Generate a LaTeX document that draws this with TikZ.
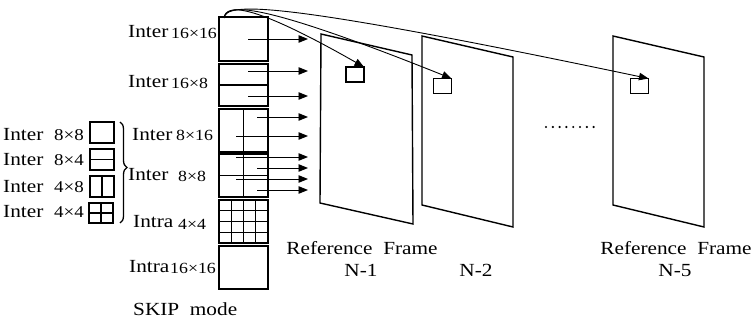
\documentclass[tikz,border=0pt]{standalone}
\usepackage{fontspec}
\setmainfont[FakeStretch=1.15]{Liberation Serif}
\usepackage{tikz}
\usetikzlibrary{arrows.meta,calc,decorations.pathreplacing}
\newcommand{\mb}{\fontsize{18.5}{20}\selectfont}
\newcommand{\sm}{\fontsize{15.5}{17}\selectfont}

\begin{document}
\begin{tikzpicture}[x=1pt,y=-1pt,>={Triangle[length=9.5pt,width=7.5pt]},
blk/.style={draw,line width=1.3pt,minimum width=49pt,inner sep=0pt,outer sep=0pt},
sblk/.style={draw,line width=1.3pt,minimum width=24pt,minimum height=21pt,inner sep=0pt,outer sep=0pt},
rblk/.style={draw,line width=1.3pt,minimum width=18pt,minimum height=15pt,inner sep=0pt,outer sep=0pt},
lbl/.style={inner sep=0pt,anchor=base west,font=\mb},
num/.style={inner sep=0pt,anchor=base west,font=\sm},
frm/.style={line width=1.4pt,line join=miter},
mv/.style={->,line width=0.9pt}]
\useasboundingbox (0,0) rectangle (756,321);
% macroblock column
\node[blk,minimum height=44pt](b1) at (243.5,39){};
\node[blk,minimum height=42pt](b2) at (243.5,85){};
\node[blk,minimum height=43pt](b3) at (243.5,130.5){};
\node[blk,minimum height=43pt](b4) at (243.5,175.5){};
\node[blk,minimum height=43pt](b5) at (243.5,221.5){};
\node[blk,minimum height=43pt](b6) at (243.5,267.5){};
\draw[line width=1.3pt](b2.west)--(b2.east);
\draw[line width=1.3pt](b3.north)--(b3.south);
\draw[line width=1.3pt](b4.north)--(b4.south) (b4.west)--(b4.east);
\foreach \i in {1,2,3}{
\draw[line width=1.3pt]($(b5.north west)!\i/4!(b5.north east)$)--($(b5.south west)!\i/4!(b5.south east)$);
\draw[line width=1.3pt]($(b5.north west)!\i/4!(b5.south west)$)--($(b5.north east)!\i/4!(b5.south east)$);
}
% sub-partitions
\node[sblk](s1) at (102,132.5){};
\node[sblk](s2) at (102,159.5){};
\node[sblk](s3) at (102,186.5){};
\node[sblk,minimum height=20pt](s4) at (101,213){};
\draw[line width=1.3pt](s2.west)--(s2.east);
\draw[line width=1.3pt](s3.north)--(s3.south);
\draw[line width=1.3pt](s4.north)--(s4.south) (s4.west)--(s4.east);
\draw[line width=1.3pt,decorate,decoration={brace,amplitude=7pt,aspect=0.45}](120,122)--(120,223);
% labels
\node[lbl](l1) at (128,38){Inter};  \node[num](m1) at (171,39){16×16};
\node[lbl](l2) at (128,88){Inter};  \node[num](m2) at (171,89){16×8};
\node[lbl](l3) at (132,140){Inter}; \node[num](m3) at (176,141){8×16};
\node[lbl](l4) at (128,180){Inter}; \node[num](m4) at (178,181){8×8};
\node[lbl](l5) at (133,227){Intra}; \node[num](m5) at (178,229){4×4};
\node[lbl](l6) at (129,272){Intra}; \node[num](m6) at (170,273){16×16};
\node[lbl](skip) at (133,315){SKIP\ \ mode};
\foreach \t/\d/\y in {a/8×8/141,b/8×4/165,c/4×8/192,d/4×4/217}{
\node[lbl](p\t) at (3,\y){Inter};
\node[num,font=\fontsize{16.5}{18}\selectfont,anchor=base east](q\t) at (84,\y){\d};
}
% reference frames
\draw[frm](321,34)--(412,55)--(413,224)--(320,203)--cycle;
\draw[frm](422,36)--(513,57)--(513,227)--(422,205)--cycle;
\draw[frm](613,36)--(704,57)--(704,227)--(613,205)--cycle;
\node[rblk](r1) at (355,74.5){};
\node[rblk](r2) at (442.5,86){};
\node[rblk](r3) at (639.5,86){};
\draw[line width=2.4pt,line cap=round,dash pattern=on 0pt off 6.8pt](546,127)--(594,127);
\node[font=\mb,anchor=base,inner sep=0pt](f1) at (362,254){Reference\ \ Frame};
\node[font=\mb,anchor=base,inner sep=0pt](n1) at (361,276){N-1};
\node[font=\mb,anchor=base,inner sep=0pt](n2) at (476,276){N-2};
\node[font=\mb,anchor=base,inner sep=0pt](f5) at (676,254){Reference\ \ Frame};
\node[font=\mb,anchor=base,inner sep=0pt](n5) at (675,276){N-5};
% motion vectors
\foreach \xa/\ya [count=\i] in {248/39,248/71,248/96,257/117,236/136,236/157,257/168,236/179,257/190}{
\coordinate(u\i) at (\xa,\ya);
\coordinate(v\i) at (308,\ya);
\draw[mv](u\i)--(v\i);
}
\coordinate(c0) at (224,18);
\draw[mv](c0)..controls(226,4)and(250,2)..(r1.north east);
\draw[mv](c0)..controls(226,3)and(258,1)..(r2.north east);
\draw[mv](c0)..controls(226,2)and(275,0)..(r3.north east);
\end{tikzpicture}
\end{document}
